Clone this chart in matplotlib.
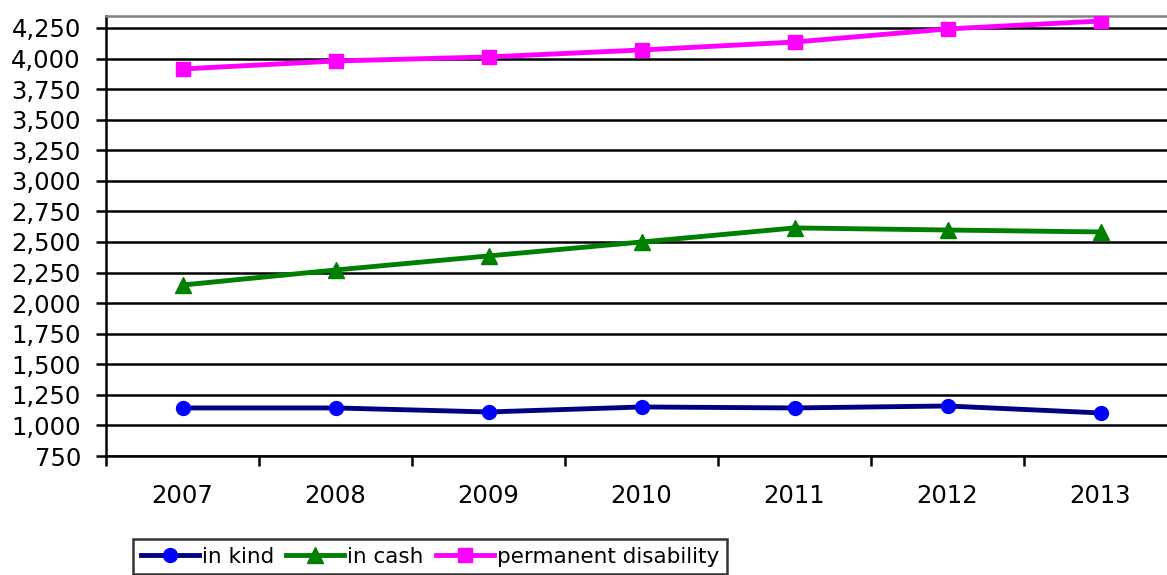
import matplotlib.pyplot as plt
from matplotlib.ticker import FuncFormatter, MultipleLocator

years = ['2007', '2008', '2009', '2010', '2011', '2012', '2013']
in_kind = [1143, 1143, 1110, 1151, 1143, 1159, 1102]
in_cash = [2148, 2271, 2386, 2500, 2615, 2598, 2582]
permanent_disability = [3915, 3980, 4013, 4070, 4135, 4242, 4307]

plt.rcParams['font.family'] = 'DejaVu Sans'

fig = plt.figure(figsize=(11.67, 5.75), dpi=100)
ax = fig.add_axes([106 / 1167, 1 - 456 / 575, 1071 / 1167, (456 - 15.5) / 575])

x = range(len(years))
ax.plot(x, in_kind, color='#000080', lw=3.5, marker='o', ms=10,
        mfc='#0000FF', mec='#0000FF', label='in kind', zorder=3)
ax.plot(x, in_cash, color='#008000', lw=3.5, marker='^', ms=11,
        mfc='#008000', mec='#008000', label='in cash', zorder=3)
ax.plot(x, permanent_disability, color='#FF00FF', lw=3.5, marker='s', ms=10,
        mfc='#FF00FF', mec='#FF00FF', label='permanent disability', zorder=3)

ax.set_xlim(-0.5, len(years) - 0.5)
ax.set_ylim(750, 4352)
ax.yaxis.set_major_locator(MultipleLocator(250))
ax.yaxis.set_major_formatter(FuncFormatter(lambda v, p: f'{int(v):,}'))
ax.grid(axis='y', color='black', lw=1.8)
ax.set_axisbelow(True)

# category labels in the middle, tick marks on the boundaries
ax.set_xticks(list(x))
ax.set_xticklabels(years)
ax.set_xticks([i - 0.5 for i in range(len(years) + 1)], minor=True)
ax.tick_params(axis='x', which='major', length=0, pad=20, labelsize=17.5)
ax.tick_params(axis='x', which='minor', length=7, width=1.8, direction='out')
ax.tick_params(axis='y', length=7, width=1.8, pad=11, labelsize=17.5)

for side in ('left', 'bottom'):
    ax.spines[side].set_linewidth(1.8)
    ax.spines[side].set_color('black')
ax.spines['top'].set_color('#808080')
ax.spines['top'].set_linewidth(1.8)
ax.spines['right'].set_visible(False)

leg = fig.legend(loc='upper left', bbox_to_anchor=(133 / 1167, 1 - 539 / 575),
                 ncol=3, fontsize=15.5, frameon=True, fancybox=False,
                 edgecolor='black', handlelength=2.7, handletextpad=0.15,
                 columnspacing=0.55, borderpad=0.35, borderaxespad=0)
leg.get_frame().set_linewidth(1.8)

fig.savefig('out.png', dpi=100)
